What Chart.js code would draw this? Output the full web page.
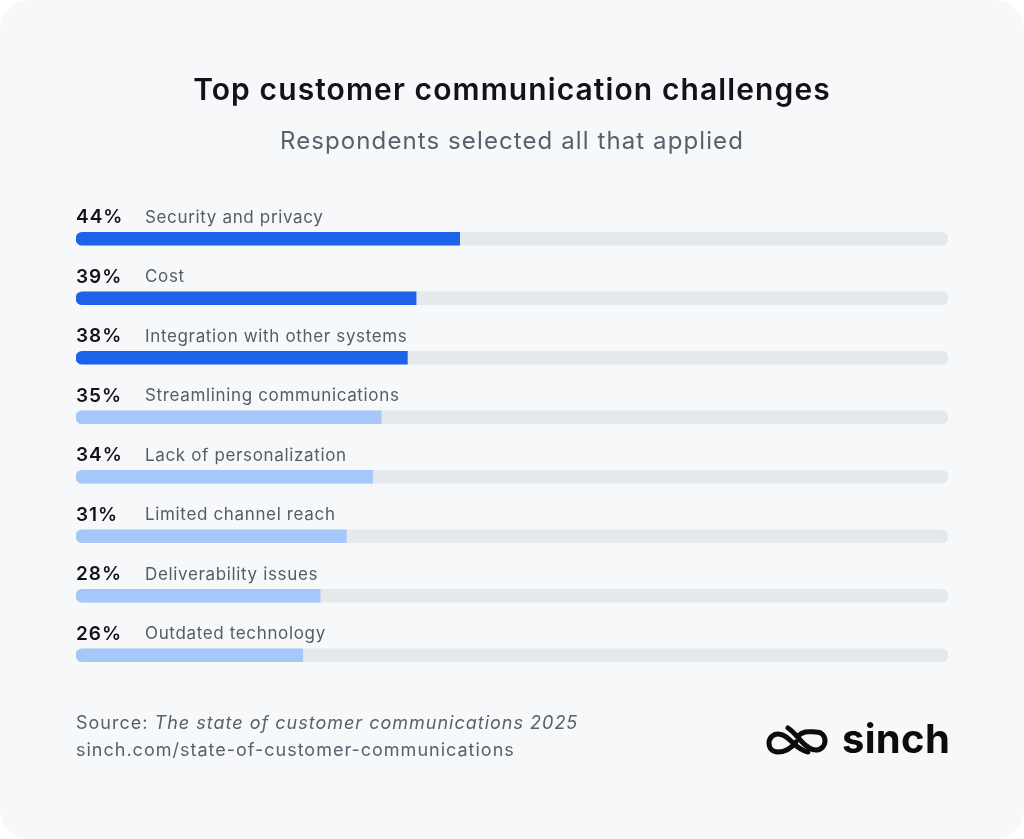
<!DOCTYPE html>
<html>
<head>
<meta charset="utf-8">
<script src="https://cdn.jsdelivr.net/npm/chart.js@4.4.1/dist/chart.umd.min.js"></script>
<style>
  html, body { margin: 0; padding: 0; background: #fff; }
  #card {
    position: relative; width: 1024px; height: 839px;
    background: #f7f8fa; border-radius: 30px; overflow: hidden;
    font-family: Inter, "Noto Sans", sans-serif;
  }
  #chart { position: absolute; left: 0; top: 0; }
  .title { position: absolute; left: 0; width: 1024px; text-align: center; top: 71px;
    font-size: 30px; font-weight: 600; color: #111318; letter-spacing: 1.1px; }
  .subtitle { position: absolute; left: 0; width: 1024px; text-align: center; top: 126px;
    font-size: 24px; color: #58616b; letter-spacing: 1.1px; }
  .source { position: absolute; left: 76px; top: 709px; font-size: 18px; color: #58616b; line-height: 27px; letter-spacing: 1px; }
  .logo { position: absolute; left: 766px; top: 714px; display: flex; align-items: center; }
  .logo span { font-size: 40px; font-weight: 700; color: #0b0c0e; margin-left: 14px; letter-spacing: 0.3px; }
</style>
</head>
<body>
<div id="card">
  <canvas id="chart" width="1024" height="839"></canvas>
  <div class="title">Top customer communication challenges</div>
  <div class="subtitle">Respondents selected all that applied</div>
  <div class="source">Source: <i>The state of customer communications 2025</i><br>sinch.com/state-of-customer-communications</div>
  <div class="logo">
    <svg width="62" height="34" viewBox="0 0 62 34">
      <path d="M30 20 C24 28 18 30 12 30 C6 30 3 26 3 21 C3 16 7 12 12 12 C18 12 22 16 26 20 C30 24 34 28 42 30"
            fill="none" stroke="#0b0c0e" stroke-width="5" stroke-linecap="round"/>
      <path d="M32 14 C38 8 44 10 50 10 C56 10 59 14 59 19 C59 24 55 28 50 28 C44 28 40 24 36 20 C32 16 28 10 22 6"
            fill="none" stroke="#0b0c0e" stroke-width="5" stroke-linecap="round"/>
    </svg>
    <span>sinch</span>
  </div>
</div>
<script>
(() => {

  // Data
  const categories = [
    'Security and privacy',
    'Cost',
    'Integration with other systems',
    'Streamlining communications',
    'Lack of personalization',
    'Limited channel reach',
    'Deliverability issues',
    'Outdated technology'
  ];
  const shares = [44, 39, 38, 35, 34, 31, 28, 26];
  const trackMax = [100, 100, 100, 100, 100, 100, 100, 100];

  const darkBlue = '#1c63ea';
  const lightBlue = '#a6c7fa';
  const barColors = shares.map((v, i) => i < 3 ? darkBlue : lightBlue);

  // Percent + category text above each bar
  const rowLabels = {
    id: 'rowLabels',
    afterDatasetsDraw(chart) {
      const ctx = chart.ctx;
      const meta = chart.getDatasetMeta(0);
      const left = chart.chartArea.left;
      ctx.save();
      ctx.textBaseline = 'middle';
      meta.data.forEach((bar, i) => {
        const y = bar.y - 21;
        ctx.font = '600 19px Inter, "Noto Sans", sans-serif';
        ctx.letterSpacing = '1px';
        ctx.fillStyle = '#111318';
        ctx.fillText(shares[i] + '%', left, y);
        ctx.font = '17px Inter, "Noto Sans", sans-serif';
        ctx.letterSpacing = '0.65px';
        ctx.fillStyle = '#545c66';
        ctx.fillText(categories[i], left + 69, y);
      });
      ctx.restore();
    }
  };

  new Chart(document.querySelector('#chart'), {
    type: 'bar',
    data: {
      labels: categories,
      datasets: [
        {
          data: shares,
          backgroundColor: barColors,
          borderSkipped: false,
          borderRadius: { topLeft: 7, bottomLeft: 7, topRight: 0, bottomRight: 0 },
          barThickness: 13,
          grouped: false,
          order: 1
        },
        {
          data: trackMax,
          backgroundColor: '#e5e9eb',
          borderSkipped: false,
          borderRadius: 7,
          barThickness: 13,
          grouped: false,
          order: 2
        }
      ]
    },
    options: {
      indexAxis: 'y',
      responsive: false,
      animation: false,
      layout: { padding: { left: 76, right: 76, top: 209, bottom: 154 } },
      scales: {
        x: { display: false, min: 0, max: 100 },
        y: { display: false }
      },
      plugins: {
        legend: { display: false },
        tooltip: { enabled: false }
      }
    },
    plugins: [rowLabels]
  });

})();
</script>
</body>
</html>
